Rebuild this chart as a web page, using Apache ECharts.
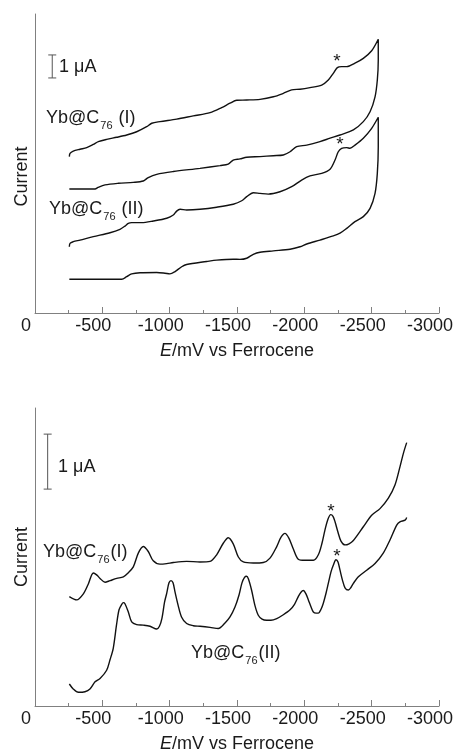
<!DOCTYPE html>
<html>
<head>
<meta charset="utf-8">
<script src="https://cdn.jsdelivr.net/npm/echarts@6/dist/echarts.min.js"></script>
<style>
  html, body { margin: 0; padding: 0; background: #fff; }
  #main { width: 457px; height: 754px; }
</style>
</head>
<body>
<div id="main"></div>
<script>
  // potential axis ticks (mV vs Fc)
  const eTicks = [0, -500, -1000, -1500, -2000, -2500, -3000];

  // top panel: cyclic voltammograms, current in uA (offset, arbitrary zero)
  const cv1E = [-255, -260, -284, -334, -384, -433, -470, -532, -607, -681, -755, -829, -867, -928, -1052, -1175, -1300, -1386, -1448, -1498, -1572, -1671, -1770, -1844, -1906, -1968, -2042, -2129, -2178, -2215, -2245, -2277, -2315, -2376, -2438, -2500, -2549,
    -2549, -2542, -2525, -2488, -2438, -2364, -2265, -2191, -2116, -2018, -1943, -1894, -1844, -1770, -1671, -1572, -1522, -1472, -1435, -1374, -1225, -1027, -904, -841, -804, -730, -619, -520, -468, -446, -255];
  const cv1I = [6.80, 6.94, 7.04, 7.12, 7.19, 7.33, 7.45, 7.55, 7.64, 7.74, 7.88, 8.10, 8.25, 8.32, 8.43, 8.57, 8.71, 8.93, 9.12, 9.25, 9.26, 9.29, 9.40, 9.55, 9.70, 9.73, 9.80, 9.91, 10.13, 10.42, 10.67, 10.71, 10.71, 10.86, 11.07, 11.40, 11.90,
    11.00, 10.13, 9.40, 8.75, 8.32, 7.96, 7.74, 7.60, 7.45, 7.30, 7.23, 7.01, 6.87, 6.84, 6.80, 6.77, 6.70, 6.65, 6.47, 6.41, 6.29, 6.15, 6.03, 5.89, 5.74, 5.68, 5.64, 5.57, 5.46, 5.39, 5.39];

  const cv2E = [-255, -260, -284, -334, -433, -557, -631, -668, -693, -718, -792, -878, -978, -1027, -1052, -1077, -1126, -1225, -1349, -1472, -1535, -1572, -1621, -1671, -1732, -1819, -1906, -1980, -2042, -2129, -2191, -2228, -2252, -2277, -2315, -2339, -2376, -2438, -2500, -2549,
    -2549, -2542, -2525, -2488, -2438, -2376, -2315, -2265, -2215, -2116, -2018, -1968, -1894, -1770, -1671, -1621, -1572, -1522, -1472, -1349, -1275, -1126, -1089, -1040, -1002, -965, -904, -780, -718, -681, -644, -255];
  const cv2I = [2.88, 3.03, 3.10, 3.17, 3.32, 3.49, 3.64, 3.78, 3.90, 3.93, 3.93, 4.00, 4.12, 4.26, 4.43, 4.51, 4.48, 4.51, 4.60, 4.73, 4.88, 5.06, 5.23, 5.20, 5.17, 5.27, 5.49, 5.78, 5.96, 6.07, 6.25, 6.65, 7.01, 7.16, 7.19, 7.16, 7.30, 7.60, 8.03, 8.51,
    7.23, 6.07, 5.20, 4.55, 4.19, 3.97, 3.68, 3.47, 3.35, 3.17, 3.00, 2.88, 2.77, 2.70, 2.64, 2.55, 2.38, 2.33, 2.34, 2.30, 2.24, 2.11, 2.01, 1.80, 1.70, 1.73, 1.76, 1.75, 1.70, 1.58, 1.47, 1.47];

  // bottom panel: differential pulse voltammograms
  const dpv1E = [-255, -310, -359, -396, -433, -460, -483, -520, -557, -607, -656, -691, -730, -767, -804, -841, -878, -928, -978, -1027, -1126, -1225, -1300, -1349, -1398, -1435, -1472, -1510, -1547, -1621, -1695, -1745, -1795, -1827, -1856, -1886, -1916, -1955, -2005, -2067, -2104, -2131, -2153, -2176, -2196, -2213, -2228, -2250, -2272, -2302, -2332, -2364, -2438, -2500, -2562, -2624, -2673, -2710, -2736, -2760];
  const dpv1I = [1.99, 1.93, 2.04, 2.22, 2.42, 2.38, 2.32, 2.25, 2.28, 2.32, 2.35, 2.42, 2.53, 2.78, 2.90, 2.81, 2.64, 2.58, 2.59, 2.61, 2.63, 2.62, 2.63, 2.75, 2.96, 3.06, 2.95, 2.71, 2.62, 2.60, 2.61, 2.69, 2.90, 3.07, 3.14, 3.05, 2.87, 2.67, 2.65, 2.65, 2.75, 2.96, 3.20, 3.40, 3.48, 3.45, 3.35, 3.16, 3.00, 2.93, 2.95, 3.01, 3.26, 3.47, 3.59, 3.78, 4.02, 4.35, 4.60, 4.79];

  const dpv2E = [-255, -284, -322, -371, -408, -446, -483, -532, -557, -581, -605, -624, -644, -656, -668, -693, -718, -755, -804, -854, -904, -924, -943, -962, -978, -995, -1010, -1025, -1040, -1062, -1088, -1126, -1175, -1225, -1300, -1361, -1411, -1448, -1485, -1515, -1537, -1556, -1571, -1585, -1608, -1634, -1658, -1686, -1720, -1752, -1795, -1844, -1894, -1927, -1955, -1975, -1993, -2012, -2030, -2050, -2067, -2087, -2104, -2124, -2141, -2161, -2178, -2198, -2215, -2235, -2250, -2265, -2283, -2302, -2327, -2347, -2364, -2401, -2463, -2525, -2586, -2636, -2686, -2710, -2748, -2760];
  const dpv2I = [0.40, 0.31, 0.25, 0.26, 0.31, 0.44, 0.50, 0.65, 0.84, 1.05, 1.47, 1.75, 1.85, 1.88, 1.86, 1.71, 1.53, 1.48, 1.47, 1.45, 1.40, 1.45, 1.60, 1.89, 2.05, 2.24, 2.28, 2.24, 2.07, 1.84, 1.62, 1.50, 1.46, 1.45, 1.43, 1.41, 1.51, 1.62, 1.80, 2.02, 2.24, 2.34, 2.36, 2.31, 2.11, 1.82, 1.65, 1.58, 1.56, 1.56, 1.59, 1.66, 1.75, 1.85, 1.99, 2.07, 2.10, 2.04, 1.93, 1.80, 1.71, 1.69, 1.69, 1.76, 1.87, 2.05, 2.23, 2.44, 2.56, 2.66, 2.62, 2.47, 2.29, 2.15, 2.11, 2.16, 2.23, 2.35, 2.47, 2.59, 2.78, 3.02, 3.29, 3.35, 3.38, 3.43];

  // 1 uA scale bars: [potential, lower current]
  const barTop = [-128, 10.22];
  const barBottom = [-94, 3.945];

  const zip = (xs, ys) => xs.map((x, i) => [x, ys[i]]);

  const FONT = 'Liberation Sans, Arial, sans-serif';
  const INK = '#1a1a1a';
  const AXIS = '#808080';

  function xAxisFor(idx) {
    return {
      gridIndex: idx,
      type: 'value',
      min: eTicks[eTicks.length - 1],
      max: eTicks[0],
      interval: 500,
      inverse: true,
      name: '{i|E}/mV vs Ferrocene',
      nameLocation: 'middle',
      nameGap: 29,
      nameTextStyle: {
        fontFamily: FONT, fontSize: 18, color: INK,
        rich: { i: { fontFamily: FONT, fontSize: 18, fontStyle: 'italic', color: INK } }
      },
      axisLine: { show: true, onZero: false, lineStyle: { color: AXIS, width: 1 } },
      axisTick: { show: true, inside: true, length: 6, lineStyle: { color: AXIS } },
      minorTick: { show: true, splitNumber: 2, length: 3, lineStyle: { color: AXIS } },
      splitLine: { show: false },
      axisLabel: {
        interval: 0, margin: 4, fontFamily: FONT, fontSize: 18, color: INK,
        padding: [0, 18, 0, 0],
        formatter: v => String(v)
      }
    };
  }

  function yAxisFor(idx, max, namePad) {
    return {
      gridIndex: idx,
      type: 'value',
      min: 0,
      max: max,
      name: 'Current',
      nameLocation: 'middle',
      nameRotate: 90,
      nameGap: 4,
      nameTextStyle: { fontFamily: FONT, fontSize: 18, color: INK, padding: namePad },
      axisLine: { show: true, onZero: false, lineStyle: { color: AXIS, width: 1 } },
      axisTick: { show: false },
      axisLabel: { show: false },
      splitLine: { show: false }
    };
  }

  function curve(data, idx) {
    return {
      type: 'line',
      xAxisIndex: idx,
      yAxisIndex: idx,
      data: data,
      showSymbol: false,
      smooth: 0.3,
      silent: true,
      lineStyle: { color: '#111', width: 1.4 }
    };
  }

  function scaleBar(b, idx) {
    return {
      type: 'line',
      xAxisIndex: idx,
      yAxisIndex: idx,
      data: [[b[0], b[1]], [b[0], b[1] + 1]],
      symbol: 'rect',
      symbolSize: [8, 1],
      showSymbol: true,
      silent: true,
      itemStyle: { color: '#555' },
      lineStyle: { color: '#555', width: 1 }
    };
  }

  function label(x, y, text, size) {
    return {
      type: 'text', x: x, y: y, silent: true,
      style: {
        text: text, fill: INK, font: (size || 18) + 'px ' + FONT,
        verticalAlign: 'middle', align: 'left',
        rich: {
          m: { fontFamily: FONT, fontSize: 18, fill: INK, color: INK },
          s: { fontFamily: FONT, fontSize: 11, fill: INK, color: INK, padding: [16, 1, 0, 1] }
        }
      }
    };
  }

  function star(x, y) {
    return {
      type: 'text', x: x, y: y, silent: true,
      style: { text: '*', fill: INK, font: '19px ' + FONT, align: 'center', verticalAlign: 'middle' }
    };
  }

  const chart = echarts.init(document.getElementById('main'), null, { renderer: 'canvas' });
  chart.setOption({
    animation: false,
    backgroundColor: '#fff',
    grid: [
      { left: 35, top: 14, width: 404, height: 299, outerBoundsMode: 'none', containLabel: false },
      { left: 35, top: 408, width: 404, height: 298, outerBoundsMode: 'none', containLabel: false }
    ],
    xAxis: [xAxisFor(0), xAxisFor(1)],
    yAxis: [yAxisFor(0, 13, [0, 26, 0, 0]), yAxisFor(1, 5.42, 0)],
    series: [
      curve(zip(cv1E, cv1I), 0),
      curve(zip(cv2E, cv2I), 0),
      scaleBar(barTop, 0),
      curve(zip(dpv1E, dpv1I), 1),
      curve(zip(dpv2E, dpv2I), 1),
      scaleBar(barBottom, 1)
    ],
    graphic: [
      label(59, 67, '1 μA'),
      label(46, 118, '{m|Yb@C}{s|76}{m| (I)}'),
      label(49, 209, '{m|Yb@C}{s|76}{m| (II)}'),
      star(337, 62),
      star(340, 145),
      label(58, 467, '1 μA'),
      label(43, 552, '{m|Yb@C}{s|76}{m|(I)}'),
      label(191, 653, '{m|Yb@C}{s|76}{m|(II)}'),
      star(331, 512),
      star(337, 557)
    ]
  });
</script>
</body>
</html>
